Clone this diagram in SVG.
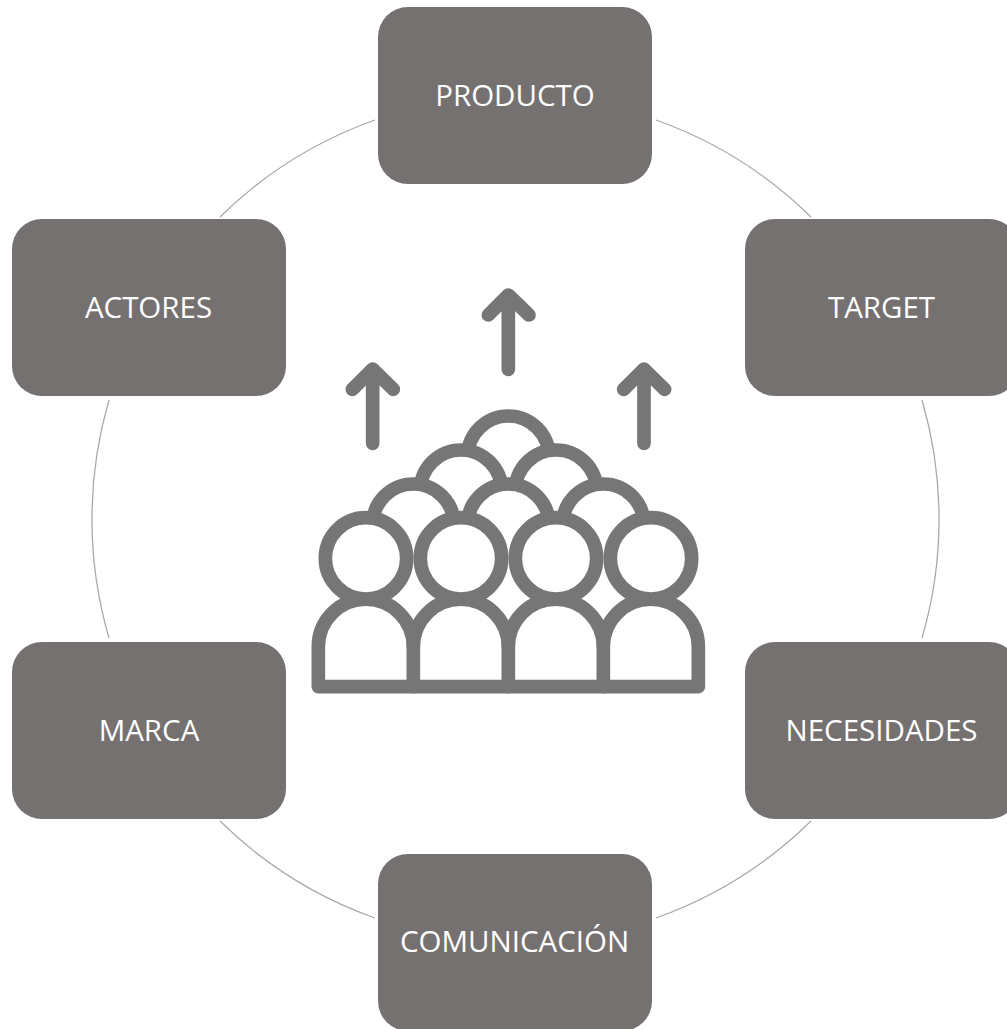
<svg xmlns="http://www.w3.org/2000/svg" width="1007" height="1029" viewBox="0 0 1007 1029">
<style>
.n{fill:#767171}
.t{fill:#fff;font-family:"Open Sans","Liberation Sans",sans-serif;font-size:29.5px;text-anchor:middle}
.c{fill:none;stroke:#a8a8a8;stroke-width:1.25}
.i{fill:#fff;stroke:#767676;stroke-width:41;stroke-linecap:round;stroke-linejoin:round}
.b{stroke-linecap:butt}
</style>
<rect width="1007" height="1029" fill="#fff"/>
<g id="connectors">
<path class="c" d="M656 120A423.500 423.500 0 0 1 811 217"/>
<path class="c" d="M922 400A423.500 423.500 0 0 1 922 638"/>
<path class="c" d="M811 821A423.500 423.500 0 0 1 656 918"/>
<path class="c" d="M375 918A423.500 423.500 0 0 1 220 821"/>
<path class="c" d="M109 638A423.500 423.500 0 0 1 109 400"/>
<path class="c" d="M220 217A423.500 423.500 0 0 1 375 120"/>
</g>
<g id="node-producto"><rect class="n" x="378" y="7" width="274" height="177" rx="30"/><text class="t" x="515" y="106">PRODUCTO</text></g>
<g id="node-target"><rect class="n" x="745" y="219" width="274" height="177" rx="30"/><text class="t" x="881.500" y="318">TARGET</text></g>
<g id="node-necesidades"><rect class="n" x="745" y="642" width="274" height="177" rx="30"/><text class="t" x="881.500" y="741">NECESIDADES</text></g>
<g id="node-comunicacion"><rect class="n" x="378" y="854" width="274" height="177" rx="30"/><text class="t" x="514.500" y="952">COMUNICACIÓN</text></g>
<g id="node-marca"><rect class="n" x="12" y="642" width="274" height="177" rx="30"/><text class="t" x="149" y="741">MARCA</text></g>
<g id="node-actores"><rect class="n" x="12" y="219" width="274" height="177" rx="30"/><text class="t" x="148.500" y="318">ACTORES</text></g>
<g id="node-people" transform="translate(300 280) scale(.33333)" class="i">
<path fill="none" d="M625 268V45M565 105L625 45L687 105"/>
<path fill="none" d="M218 490V267M157 328L218 267L280 328"/>
<path fill="none" d="M1032 490V267M971 328L1032 267L1094 328"/>
<path class="b" d="M503 530A122 122 0 0 1 747 530"/>
<path class="b" d="M361 632A122 122 0 0 1 605 632"/>
<path class="b" d="M646 632A122 122 0 0 1 890 632"/>
<path class="b" d="M218 734A122 122 0 0 1 462 734"/>
<path class="b" d="M503 734A122 122 0 0 1 747 734"/>
<path class="b" d="M788 734A122 122 0 0 1 1032 734"/>
<path d="M55 1220V1100A142.500 142.500 0 0 1 340 1100A142.500 142.500 0 0 1 625 1100A142.500 142.500 0 0 1 910 1100A142.500 142.500 0 0 1 1195 1100V1220Z"/>
<path fill="none" d="M340 1100V1220M625 1100V1220M910 1100V1220"/>
<circle cx="198" cy="835" r="122"/><circle cx="483" cy="835" r="122"/><circle cx="768" cy="835" r="122"/><circle cx="1053" cy="835" r="122"/>
</g>
</svg>
